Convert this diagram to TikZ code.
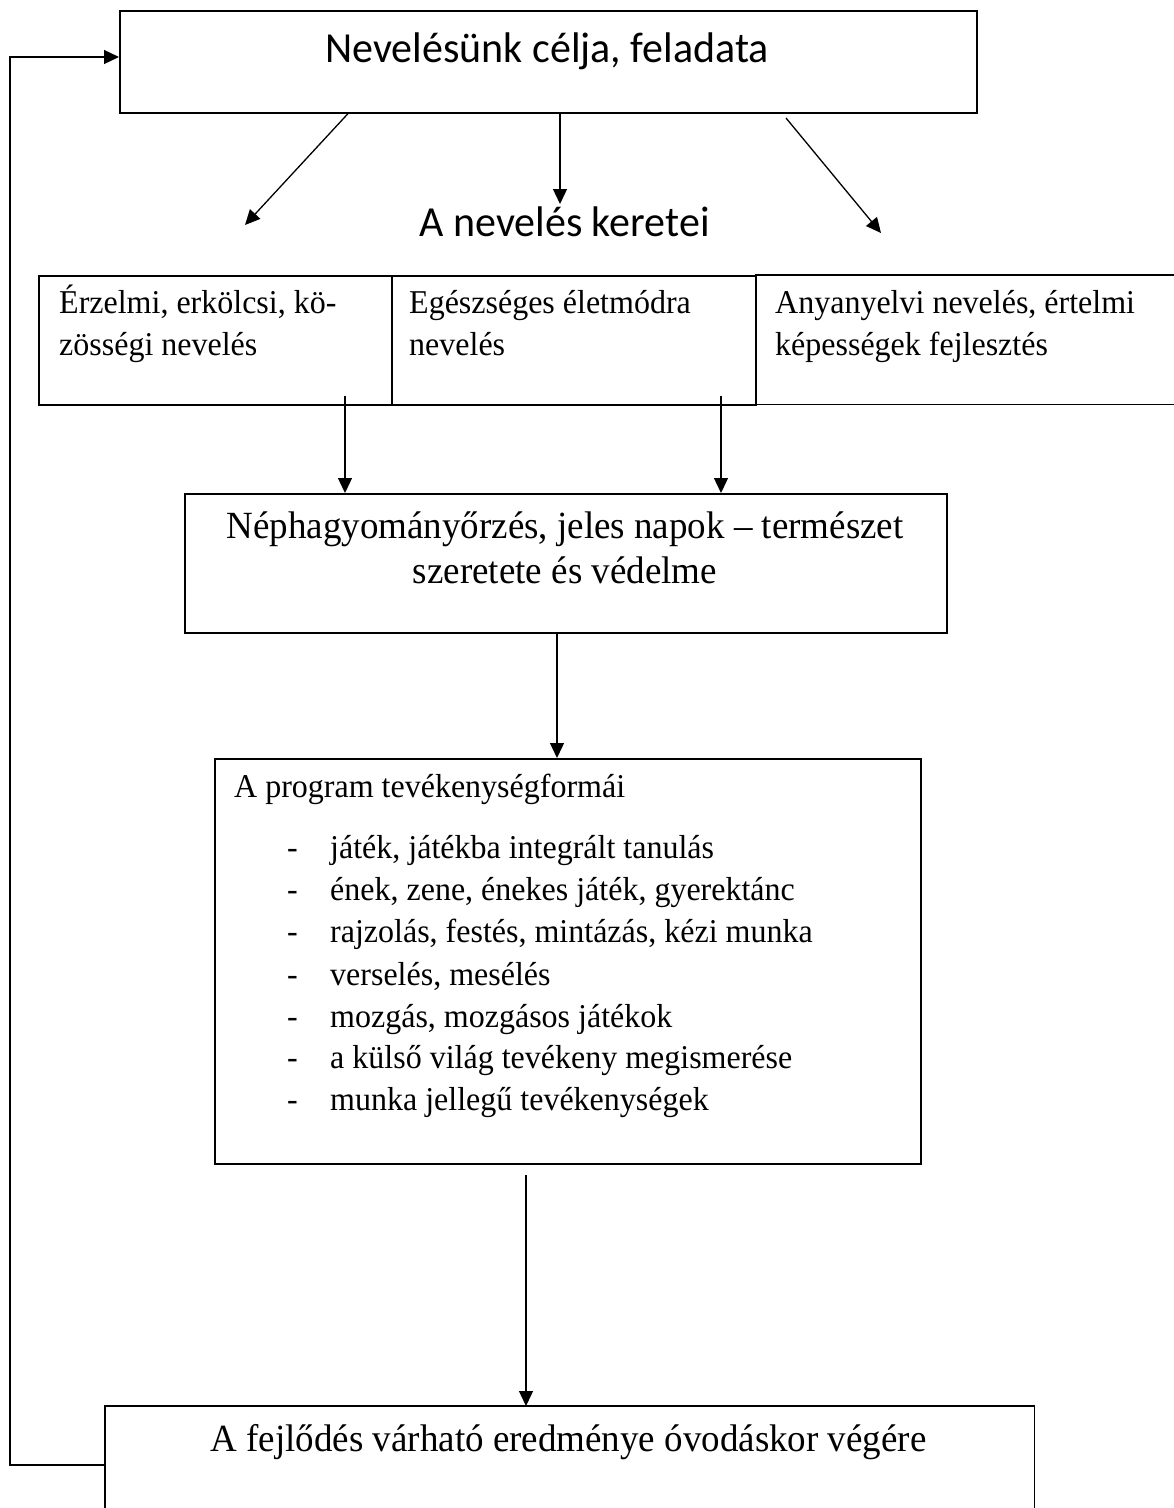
\documentclass[tikz,border=0pt]{standalone}
\usepackage{fontspec}
\usepackage{graphicx}
\setmainfont{Liberation Serif}
\newfontfamily\calfont{Carlito}
\usetikzlibrary{arrows.meta,calc}
\newcommand\tq[1]{\scalebox{1}[1.04]{#1}}
\newcommand\cq[1]{\scalebox{1}[1.02]{#1}}
\tikzset{
  boxs/.style={draw, line width=1.6pt, inner sep=0pt, anchor=north west},
  openbox/.style={inner sep=0pt, anchor=north west},
  boxline/.style={line width=1.6pt},
  calib/.style={inner sep=0pt, anchor=base, font=\calfont\fontsize{42}{50}\selectfont},
  tms/.style={inner sep=0pt, anchor=base west, font=\fontsize{32}{42}\selectfont},
  tmsbig/.style={inner sep=0pt, anchor=base, font=\fontsize{37}{45}\selectfont},
  arr/.style={line width=1.3pt, -{Triangle[length=15pt,width=14pt]}},
}
\begin{document}
\begin{tikzpicture}[x=1pt,y=-1pt]
\useasboundingbox (0,0) rectangle (1174,1508);
\fill[white] (0,0) rectangle (1174,1508);

% boxes
\node[boxs, minimum width=857pt, minimum height=102pt] (top) at (119,10) {};
\node[boxs, minimum width=353pt, minimum height=129pt] (b1) at (38,275) {};
\node[boxs, minimum width=364pt, minimum height=129pt] (b2) at (391,275) {};
\node[openbox, minimum width=419pt, minimum height=129pt] (b3) at (755,275) {};
\draw[boxline] (b3.north west) -- (b3.north east);
\draw[boxline] (b3.south west) -- (b3.south east);
\node[boxs, minimum width=762pt, minimum height=139pt] (mid) at (184,493) {};
\node[boxs, minimum width=706pt, minimum height=405pt] (prog) at (214,758) {};
\node[openbox, minimum width=929pt, minimum height=102pt] (bot) at (105,1406) {};
\draw[boxline] (bot.south west) -- (bot.north west) -- (bot.north east) -- (bot.south east);

% texts
\node[calib] (ttl) at (547,62) {\cq{Nevelésünk célja, feladata}};
\node[calib] (ker) at (564.5,236) {\cq{A nevelés keretei}};

\node[tms] (b1a) at (59,313) {\tq{Érzelmi, erkölcsi, kö-}};
\node[tms] (b1b) at (59,355) {\tq{zösségi nevelés}};
\node[tms] (b2a) at (409,313) {\tq{Egészséges életmódra}};
\node[tms] (b2b) at (409,355) {\tq{nevelés}};
\node[tms] (b3a) at (775,313) {\tq{Anyanyelvi nevelés, értelmi}};
\node[tms] (b3b) at (775,355) {\tq{képességek fejlesztés}};

\node[tmsbig] (mida) at (565,538) {\tq{Néphagyományőrzés, jeles napok – természet}};
\node[tmsbig] (midb) at (565,583) {\tq{szeretete és védelme}};

\node[tms] (ph) at (234,797) {\tq{A program tevékenységformái}};
\foreach \y/\t [count=\i] in {858/{játék, játékba integrált tanulás},
  900/{ének, zene, énekes játék, gyerektánc},
  942/{rajzolás, festés, mintázás, kézi munka},
  985/{verselés, mesélés},
  1027/{mozgás, mozgásos játékok},
  1068/{a külső világ tevékeny megismerése},
  1110/{munka jellegű tevékenységek}}{
  \node[tms] (d\i) at (287,\y) {\tq{-}};
  \node[tms] (it\i) at (330,\y) {\tq{\t}};
}

\node[tmsbig] (bt) at (568.5,1451) {\tq{A fejlődés várható eredménye óvodáskor végére}};

% connector helper coordinates
\coordinate (xl) at (348,0);
\coordinate (tl) at (245,225);
\coordinate (xm) at (560,0);
\coordinate (tm) at (560,204);
\coordinate (sr) at (786,118);
\coordinate (tr) at (881,233);
\coordinate (s1) at (345,396);
\coordinate (s2) at (721,396);
\coordinate (xc) at (557,0);
\coordinate (s4) at (526,1175);
\coordinate (fbB) at (10,1465);
\coordinate (fbT) at (10,57);

% connectors
\draw[arr] (top.south -| xl) -- (tl);
\draw[arr] (top.south -| xm) -- (tm);
\draw[arr] (sr) -- (tr);
\draw[arr] (s1) -- (s1 |- mid.north);
\draw[arr] (s2) -- (s2 |- mid.north);
\draw[arr] (mid.south -| xc) -- (prog.north -| xc);
\draw[arr] (s4) -- (s4 |- bot.north);
\draw[arr] (bot.west |- fbB) -- (fbB) -- (fbT) -- (top.west |- fbT);
\end{tikzpicture}
\end{document}
